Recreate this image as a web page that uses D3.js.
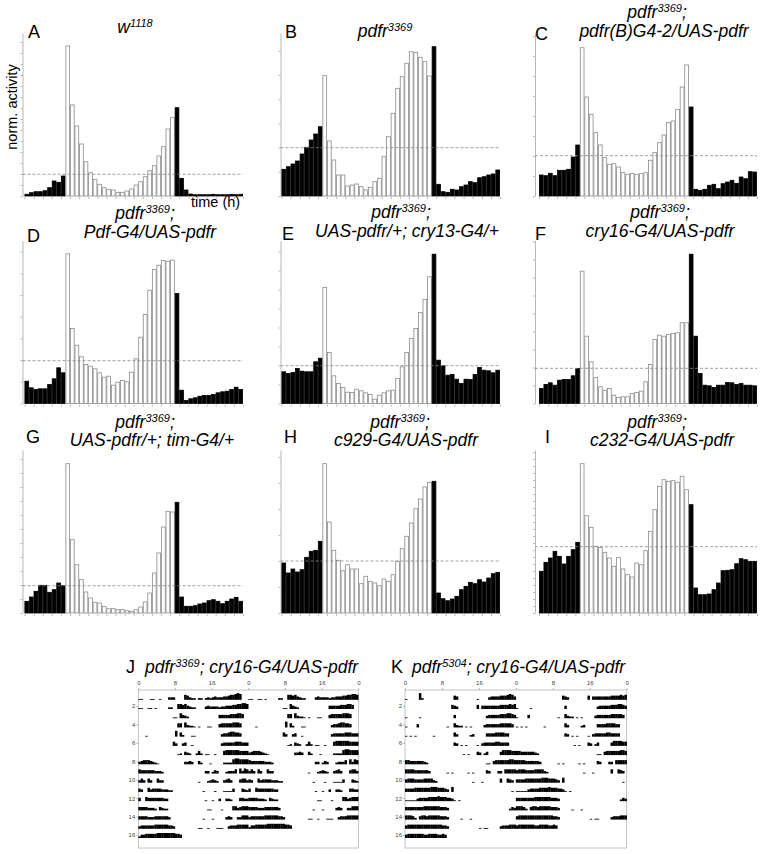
<!DOCTYPE html>
<html>
<head>
<meta charset="utf-8">
<title>pdfr activity profiles</title>
<script src="https://d3js.org/d3.v7.min.js"></script>
<style>
  body { margin: 0; background: #fff; }
  svg { font-family: "Liberation Sans", Arial, sans-serif; }
  .axis path, .axis line { stroke: #999; stroke-width: 0.7; }
  .axis text { fill: #444; font-size: 6px; }
  .title { font-style: italic; font-size: 17.5px; }
  .letter { font-size: 18px; }
</style>
</head>
<body>
<script>
var width = 763,
    height = 854,
    plotH = 163, //height of each histogram
    yMax = 163;  //norm. activity at the top of each y axis

// 48 half-hour bins: 0-8 lights off, 9-32 lights on, 33-47 lights off
var lightOn = 9, lightOff = 33;

var actA = [1.7, 3.3, 4.3, 4.3, 5.3, 8.3, 15, 13.7, 20,
    150, 91, 70, 52, 34.3, 23.3, 16.7, 11.7, 8.3, 6.7, 6, 3.7, 3.7, 5, 7, 11, 14.3, 19.3, 25.3, 30.3, 40, 49.3, 67, 78.3,
    88.3, 17.7, 6, 2, 1.3, 1.3, 1.3, 1.3, 1.7, 1.3, 1.3, 1.3, 1.7, 1.3, 1.7];
var actB = [26.7, 29.3, 32, 35, 42, 48.7, 56, 62, 69.3,
    120.3, 55, 36, 21, 21, 10, 11, 12, 9.3, 6, 8.7, 14.3, 17.7, 39.3, 59.3, 82.7, 107.7, 119.3, 132.7, 144.3, 143.7, 138.7, 134.3, 120,
    149.3, 11.7, 4.3, 3.7, 6.7, 6, 9.3, 11, 14.3, 13.3, 18.3, 19.3, 21, 22, 26];
var actC = [21, 20.3, 22.7, 20.3, 25.7, 25.7, 26.7, 39, 51,
    148.3, 99, 81.7, 63.3, 51, 38.3, 31.7, 32.3, 29, 23.3, 21.7, 22.7, 21.7, 22.3, 23.3, 35.7, 43.3, 53.3, 61, 73.3, 75, 86.7, 109, 131,
    89, 6.7, 5.7, 6.7, 10.7, 11.7, 7.3, 12.3, 14, 15.7, 12.7, 19, 17.3, 24.3, 24];
var actD = [22.3, 15.7, 14, 14.7, 14.7, 19, 24.7, 35.7, 30.7,
    149.7, 75, 58.3, 46.7, 39, 37.3, 34.7, 30.7, 26.3, 27.3, 18.3, 21.3, 23, 21.7, 31.3, 44.7, 66.3, 89, 113.3, 134, 138.3, 143, 142.3, 143.3,
    110, 13.3, 3, 4.7, 5.7, 7.3, 8, 8, 9, 10.7, 11.7, 12.3, 14, 16.3, 14];
var actE = [31.7, 30, 31, 35, 32.3, 31.7, 31.7, 41.7, 45.3,
    116, 51, 27.7, 20, 16, 11.3, 11, 14.3, 12.7, 10.7, 9, 4.3, 8.3, 10.7, 12.7, 13.3, 25, 36.7, 51, 65, 75, 91, 104, 126.7,
    149.3, 43.3, 37.7, 28.3, 29, 24.3, 20, 24.3, 24, 29, 36, 33.3, 32.7, 30.7, 33.3];
var actF = [15, 19, 20.7, 18.3, 23.3, 24, 24, 27.7, 35,
    132.3, 67.3, 41.7, 26, 16.7, 13.3, 15, 8.3, 6, 6.7, 6.7, 10, 11, 12.3, 21.7, 39, 64, 68.3, 67.3, 69, 70, 70.7, 80.7, 80.7,
    149.3, 67.3, 30, 18.3, 17.7, 16, 18.3, 18.3, 21, 20.7, 19, 20, 18.3, 18.3, 17.7];
var actG = [11.7, 16, 21.7, 27.7, 27.7, 20.7, 23.3, 30, 27.3,
    149.3, 73.3, 48.3, 33.3, 21, 15, 10.7, 10, 6.7, 4.3, 4.3, 3.3, 3.3, 2.3, 1.7, 3.3, 6, 11, 20, 40, 60, 86, 101.7, 101,
    110.7, 16, 6.7, 6.7, 7.3, 9, 10, 12.3, 13.3, 11.7, 9.3, 11.7, 14, 15.7, 11.7];
var actH = [50, 40, 44, 41, 43.3, 55.7, 61.7, 62.7, 71.7,
    149.3, 91, 62.7, 52.7, 42.3, 48.3, 44, 44, 29.3, 36.7, 31.7, 30, 27.3, 34, 31.7, 38.3, 51.7, 64.3, 76.7, 90, 104.3, 114, 126, 130.7,
    131.7, 20, 14.3, 12.3, 14, 16.7, 23.3, 26.7, 30.7, 29.3, 33.3, 31, 35, 39.3, 40.7];
var actI = [41.7, 50.7, 55, 61.7, 56.7, 49, 56.7, 63.3, 70.7,
    149.3, 97.3, 85.7, 66.7, 65.7, 60.7, 55, 46.7, 55.7, 44, 38.3, 36, 50, 48.3, 62.3, 81.7, 103.3, 126.7, 133.3, 131.7, 132.3, 130.7, 136.7, 123.3,
    108.3, 25, 18.3, 18.3, 19, 23.3, 30, 42.3, 42.7, 43.3, 49.3, 54.3, 53.3, 51.7, 51.7];

var meanLevels = [21.7, 48.3, 40.3, 42.8, 37.8, 35.2, 27.3, 52, 66.3]; //dashed line
var tickSteps = [11, 24.2, 20, 21.7, 19, 18, 14, 26, 7]; //y tick spacing

var letters = ["A", "B", "C", "D", "E", "F", "G", "H", "I"];
var titles = [
    ["w^{1118}"],
    ["pdfr^{3369}"],
    ["pdfr^{3369};", "pdfr(B)G4-2/UAS-pdfr"],
    ["pdfr^{3369};", "Pdf-G4/UAS-pdfr"],
    ["pdfr^{3369};", "UAS-pdfr/+; cry13-G4/+"],
    ["pdfr^{3369};", "cry16-G4/UAS-pdfr"],
    ["pdfr^{3369};", "UAS-pdfr/+; tim-G4/+"],
    ["pdfr^{3369};", "c929-G4/UAS-pdfr"],
    ["pdfr^{3369};", "c232-G4/UAS-pdfr"]
];

// actograms: one string per day, 48 half-hour bins, activity level 0-9
var actoJ = [
    "11000110 01000333 00006532 20220232 34333445 66787000",
    "11001101 00000220 06656432 20000343 33323344 45566776",
    "00000000 00000001 10643200 00000000 00044444 55566500",
    "00000000 00000000 05506322 10100011 00045555 56665000",
    "00010000 00000000 70520001 10000000 00003445 66554000",
    "00000000 00000005 30034001 00000000 00003444 44555444",
    "00000000 00000000 01204320 02520110 01000566 66665555",
    "34555432 10000000 00003343 00420001 00000222 26776666",
    "54444443 33200000 00000000 00000330 24300023 33506365",
    "35305300 53300000 00000000 00100023 43200345 30004553",
    "43005344 44333220 00000000 00001000 01000111 14000432",
    "40054444 44433000 00000000 00000100 10030033 20004433",
    "44443332 04322000 00000000 00000011 00001000 05534555",
    "44443334 44444300 00000000 00001000 10000034 30033555",
    "34444445 55555443 00000000 00110010 00111003 44455555",
    "24455555 66666666 55400000 00000000 00000000 00000000",
    "00000000 00000000 00000000 00000000 00000000 00000000"
];
var actoK = [
    "10000082 00000000 00000540 00000001 00003444 45556764",
    "00000000 00000000 00005430 00000005 04444444 45555656",
    "10000010 00000000 00000400 00000000 00034444 45556654",
    "10000400 00000000 00100532 20101000 00344444 45555540",
    "10101000 00001000 00000530 00002300 00044445 55544000",
    "00000000 00000000 00000430 10100001 03444445 54444000",
    "00000000 00000000 00000000 01010004 30240000 04666655",
    "55444444 32000000 00000000 00000000 00011045 55555665",
    "55554444 44300000 00101000 00010100 00043000 33055555",
    "45554444 55553200 00000000 00000100 01000000 05005430",
    "44445555 55566655 54306000 00000000 00000000 00000010",
    "11111344 44555565 55443101 00000000 00000000 00000000",
    "44444444 55555554 44300000 00000000 00000000 00000243",
    "55542045 54555554 44300000 10001000 00000000 00000000",
    "45555555 55555555 44300000 00000000 10110000 03444555",
    "45555555 44555544 54000000 00000000 00000000 00000000",
    "00000000 00000000 00000000 00000000 00000000 00000000"
];
var actoHours = [0, 8, 16, 24, 32, 40, 48];
var actoDays = [2, 4, 6, 8, 10, 12, 14, 16];

// layout
var colAxisX = [22.5, 280.5, 535],
    colBarX0 = [24.5, 281.5, 539],
    colBarX1 = [243, 500, 757],
    rowBase = [196, 403.5, 613];
var titleX = [[135], [385], [657, 664], [145, 150], [401, 407], [660, 660], [145, 152], [400, 406], [657, 662]];
var titleY = [[33], [37], [18, 37], [219, 238], [218, 237], [218, 237], [428, 446], [428, 446], [428, 446]];
var letterX = [28, 285, 535, 27, 282, 535, 26, 284, 545];
var letterY = [38, 38, 40, 242, 240, 240, 443, 443, 443];

var svg = d3.select("body").append("svg")
    .attr("width", width)
    .attr("height", height);

// write "abc^{sup}def" as text with superscript tspans
function richText(text, str) {
    var parts = str.split(/\^\{|\}/),
        up = false;
    parts.forEach(function (s, i) {
        var sup = i % 2 === 1;
        if (!s) return;
        var t = text.append("tspan").text(s);
        if (sup) {
            t.attr("font-size", "11px").attr("dy", -6.5);
            up = true;
        } else if (up) {
            t.attr("dy", 6.5);
            up = false;
        }
    });
}

var panels = [actA, actB, actC, actD, actE, actF, actG, actH, actI];
var bins = d3.range(48);

panels.forEach(function (values, k) {
    var col = k % 3,
        row = Math.floor(k / 3),
        base = rowBase[row];

    var x = d3.scaleBand()
        .domain(bins)
        .range([colBarX0[col], colBarX1[col]]);

    var xt = d3.scaleLinear() //for the hour ticks below the bars
        .domain([0, 48])
        .range([colBarX0[col], colBarX1[col]]);

    var y = d3.scaleLinear()
        .domain([0, yMax])
        .range([base, base - plotH]);

    var g = svg.append("g").attr("class", "panel");

    g.append("g")
        .attr("class", "axis")
        .attr("transform", "translate(" + colAxisX[col] + ",0)")
        .call(d3.axisLeft(y)
            .tickValues(d3.range(0, yMax, tickSteps[k]))
            .tickSize(2)
            .tickSizeOuter(0)
            .tickFormat(""));

    g.append("g")
        .attr("class", "axis")
        .attr("transform", "translate(0," + (base + 1) + ")")
        .call(d3.axisBottom(xt)
            .tickValues(d3.range(0, 49, 2))
            .tickSize(2)
            .tickFormat(""))
        .select(".domain").remove();

    g.selectAll(".bar")
        .data(values)
        .enter().append("rect")
        .attr("class", "bar")
        .attr("x", function (d, i) { return x(i) + 0.4; })
        .attr("width", x.bandwidth() - 0.8)
        .attr("y", function (d) { return y(d); })
        .attr("height", function (d) { return base - y(d); })
        .attr("fill", function (d, i) { return i >= lightOn && i < lightOff ? "#fff" : "#000"; })
        .attr("stroke", function (d, i) { return i >= lightOn && i < lightOff ? "#8a8a8a" : "#000"; })
        .attr("stroke-width", 0.8);

    g.append("line")
        .attr("x1", colAxisX[col])
        .attr("x2", colBarX1[col])
        .attr("y1", y(meanLevels[k]))
        .attr("y2", y(meanLevels[k]))
        .attr("stroke", "#888")
        .attr("stroke-width", 0.8)
        .attr("stroke-dasharray", "3,2");

    g.append("text")
        .attr("class", "letter")
        .attr("x", letterX[k])
        .attr("y", letterY[k])
        .text(letters[k]);

    titles[k].forEach(function (line, j) {
        var t = g.append("text")
            .attr("class", "title")
            .attr("text-anchor", "middle")
            .attr("x", titleX[k][j])
            .attr("y", titleY[k][j]);
        richText(t, line);
    });
});

svg.append("text")
    .attr("transform", "translate(17,107) rotate(-90)")
    .attr("text-anchor", "middle")
    .style("font-size", "14.5px")
    .text("norm. activity");

svg.append("text")
    .attr("x", 191)
    .attr("y", 207)
    .style("font-size", "14.5px")
    .text("time (h)");

// double-plotted actogram: row n shows day n and day n+1
var actTop = 690, actBottom = 848;

function parseDay(s) {
    return s.replace(/ /g, "").split("").map(Number);
}

function actogram(days, left, right, letter, label, letterPos, labelPos) {
    var x = d3.scaleLinear().domain([0, 48]).range([left, right]);
    var rowY = d3.scaleLinear().domain([1, 16]).range([699.8, 838]);
    var h = d3.scaleLinear().domain([0, 9]).range([0, 7.5]);
    var g = svg.append("g").attr("class", "actogram");

    g.append("rect")
        .attr("x", left)
        .attr("y", actTop)
        .attr("width", right - left)
        .attr("height", actBottom - actTop)
        .attr("fill", "none")
        .attr("stroke", "#aaa")
        .attr("stroke-width", 0.7);

    var cells = [];
    d3.range(1, 17).forEach(function (row) {
        [0, 1].forEach(function (half) {
            parseDay(days[row - 1 + half]).forEach(function (c, b) {
                if (c > 0) cells.push({ row: row, t: half * 24 + b / 2, c: c });
            });
        });
    });

    g.selectAll(".count")
        .data(cells)
        .enter().append("rect")
        .attr("class", "count")
        .attr("x", function (d) { return x(d.t); })
        .attr("width", x(0.5) - x(0) + 0.2)
        .attr("y", function (d) { return rowY(d.row) - h(d.c); })
        .attr("height", function (d) { return h(d.c); })
        .attr("fill", "#000");

    g.append("g")
        .attr("class", "axis")
        .attr("transform", "translate(0," + actTop + ")")
        .call(d3.axisTop(x)
            .tickValues(actoHours)
            .tickSize(2)
            .tickFormat(function (d) { return d % 24; }))
        .select(".domain").remove();

    g.append("g")
        .attr("class", "axis")
        .attr("transform", "translate(" + left + ",-3)")
        .call(d3.axisLeft(rowY)
            .tickValues(actoDays)
            .tickSize(2)
            .tickPadding(1))
        .select(".domain").remove();

    g.append("text")
        .attr("class", "letter")
        .attr("x", letterPos)
        .attr("y", 673)
        .text(letter);

    var t = g.append("text")
        .attr("class", "title")
        .attr("x", labelPos)
        .attr("y", 673);
    richText(t, label);
}

actogram(actoJ, 138.3, 358.3, "J", "pdfr^{3369}; cry16-G4/UAS-pdfr", 126, 145);
actogram(actoK, 405, 626.7, "K", "pdfr^{5304}; cry16-G4/UAS-pdfr", 391, 412);
</script>
</body>
</html>
